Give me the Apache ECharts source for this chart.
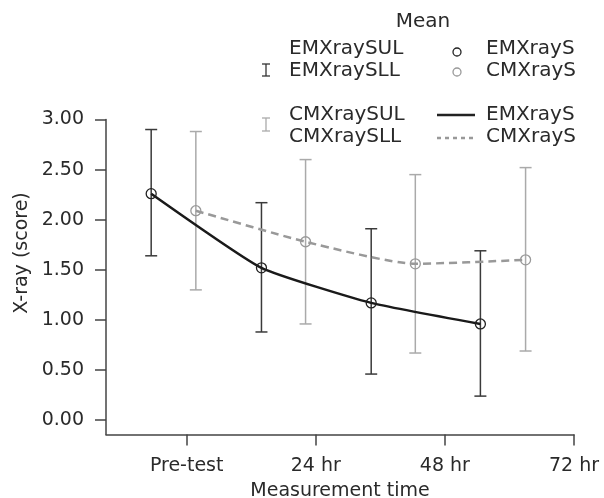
<!DOCTYPE html>
<html>
<head>
<meta charset="utf-8">
<script src="https://cdn.jsdelivr.net/npm/echarts@6/dist/echarts.min.js"></script>
<style>
  html, body { margin: 0; padding: 0; background: #fff; }
  #chart { width: 604px; height: 498px; }
</style>
</head>
<body>
<div id="chart"></div>
<script>
// tick positions (hours) and their labels
var tickValues = [0, 24, 48, 72];
var tickLabels = ['Pre-test', '24 hr', '48 hr', '72 hr'];
var yTicks = [0, 0.5, 1, 1.5, 2, 2.5, 3];

// x positions of the two groups (dodged around the measurement times)
var emX = [-6.6, 13.9, 34.3, 54.6];
var cmX = [1.7, 22.1, 42.5, 63.0];

// EM group
var emMean = [2.26, 1.52, 1.17, 0.96];
var emUL = [2.90, 2.17, 1.91, 1.69];
var emLL = [1.64, 0.88, 0.46, 0.24];

// CM group
var cmMean = [2.09, 1.78, 1.56, 1.60];
var cmUL = [2.88, 2.60, 2.45, 2.52];
var cmLL = [1.30, 0.96, 0.67, 0.69];

var font = 'DejaVu Sans';
var textColor = '#2a2a2a';

function pairs(xs, ys) {
  return xs.map(function (x, i) { return [x, ys[i]]; });
}
function bars(xs, lo, hi) {
  return xs.map(function (x, i) { return [x, lo[i], hi[i]]; });
}

function errorBar(color) {
  return function (params, api) {
    var x = api.value(0);
    var lo = api.coord([x, api.value(1)]);
    var hi = api.coord([x, api.value(2)]);
    var w = 6;
    var style = { stroke: color, lineWidth: 1.5 };
    return {
      type: 'group',
      children: [
        { type: 'line', shape: { x1: lo[0], y1: lo[1], x2: hi[0], y2: hi[1] }, style: style },
        { type: 'line', shape: { x1: lo[0] - w, y1: lo[1], x2: lo[0] + w, y2: lo[1] }, style: style },
        { type: 'line', shape: { x1: hi[0] - w, y1: hi[1], x2: hi[0] + w, y2: hi[1] }, style: style }
      ]
    };
  };
}

function legendBar(x, y1, y2, color) {
  var s = { stroke: color, lineWidth: 1.3 };
  return [
    { type: 'line', shape: { x1: x, y1: y1, x2: x, y2: y2 }, style: s },
    { type: 'line', shape: { x1: x - 4, y1: y1, x2: x + 4, y2: y1 }, style: s },
    { type: 'line', shape: { x1: x - 4, y1: y2, x2: x + 4, y2: y2 }, style: s }
  ];
}
function legendText(x, y, str, align) {
  return {
    type: 'text', x: x, y: y,
    style: { text: str, font: '20px "' + font + '"', fill: textColor, align: align || 'left', verticalAlign: 'middle' }
  };
}

var graphics = [
  legendText(423, 22, 'Mean', 'center'),
  legendText(289, 49, 'EMXraySUL'),
  legendText(289, 71, 'EMXraySLL'),
  legendText(289, 115, 'CMXraySUL'),
  legendText(289, 137, 'CMXraySLL'),
  legendText(486, 49, 'EMXrayS'),
  legendText(486, 71, 'CMXrayS'),
  legendText(486, 115, 'EMXrayS'),
  legendText(486, 137, 'CMXrayS'),
  { type: 'circle', shape: { cx: 457, cy: 52, r: 4 }, style: { fill: 'none', stroke: '#222', lineWidth: 1.3 } },
  { type: 'circle', shape: { cx: 457, cy: 72, r: 4 }, style: { fill: 'none', stroke: '#999', lineWidth: 1.3 } },
  { type: 'line', shape: { x1: 437, y1: 115, x2: 475, y2: 115 }, style: { stroke: '#222', lineWidth: 2.5 } },
  { type: 'line', shape: { x1: 437, y1: 138, x2: 475, y2: 138 }, style: { stroke: '#999', lineWidth: 2.5, lineDash: [4, 4] } },
  {
    type: 'text', x: 22, y: 253, rotation: Math.PI / 2,
    style: { text: 'X-ray (score)', font: '19px "' + font + '"', fill: textColor, align: 'center', verticalAlign: 'middle' }
  }
].concat(legendBar(266, 64, 76, '#333')).concat(legendBar(266, 118, 131, '#aaa'));

var chart = echarts.init(document.getElementById('chart'));
chart.setOption({
  animation: false,
  backgroundColor: '#fff',
  textStyle: { fontFamily: font },
  grid: { left: 106, right: 30, top: 119.5, bottom: 63.5, containLabel: false, outerBoundsMode: 'none' },
  xAxis: {
    type: 'value',
    min: -15,
    max: 72,
    name: 'Measurement time',
    nameLocation: 'middle',
    nameGap: 47,
    nameTextStyle: { fontSize: 19, color: textColor, fontFamily: font },
    splitLine: { show: false },
    axisLine: { onZero: false, lineStyle: { color: '#444', width: 1.5 } },
    axisTick: { show: true, inside: false, length: 11, customValues: tickValues, lineStyle: { color: '#444', width: 1.5 } },
    axisLabel: {
      customValues: tickValues,
      margin: 22,
      fontSize: 19,
      color: textColor,
      fontFamily: font,
      formatter: function (v) { return tickLabels[tickValues.indexOf(v)]; }
    }
  },
  yAxis: {
    type: 'value',
    min: -0.143,
    max: 3,
    splitLine: { show: false },
    axisLine: { show: true, onZero: false, lineStyle: { color: '#444', width: 1.5 } },
    axisTick: { show: true, inside: false, length: 11, customValues: yTicks, lineStyle: { color: '#444', width: 1.5 } },
    axisLabel: {
      customValues: yTicks,
      margin: 22,
      fontSize: 19,
      color: textColor,
      fontFamily: font,
      formatter: function (v) { return v.toFixed(2); }
    }
  },
  series: [
    {
      type: 'custom',
      renderItem: errorBar('#aaa'),
      data: bars(cmX, cmLL, cmUL),
      z: 1
    },
    {
      type: 'custom',
      renderItem: errorBar('#3a3a3a'),
      data: bars(emX, emLL, emUL),
      z: 1
    },
    {
      name: 'CMXrayS',
      type: 'line',
      data: pairs(cmX, cmMean),
      smooth: 0.2,
      symbol: 'circle',
      symbolSize: 10,
      lineStyle: { color: '#999', width: 2.5, type: [8, 5] },
      itemStyle: { color: 'rgba(0,0,0,0)', borderColor: '#999', borderWidth: 1.3 },
      z: 3
    },
    {
      name: 'EMXrayS',
      type: 'line',
      data: pairs(emX, emMean),
      smooth: 0.15,
      symbol: 'circle',
      symbolSize: 10,
      lineStyle: { color: '#1a1a1a', width: 2.5 },
      itemStyle: { color: 'rgba(0,0,0,0)', borderColor: '#222', borderWidth: 1.3 },
      z: 4
    }
  ],
  graphic: graphics
});
</script>
</body>
</html>
